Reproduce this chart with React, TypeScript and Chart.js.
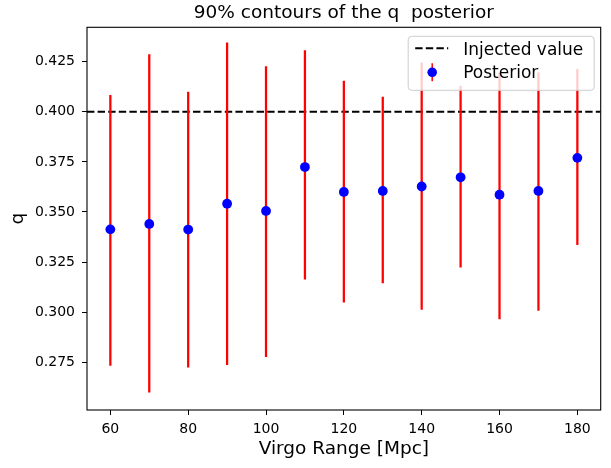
import React, { useEffect, useRef } from 'react';
import { Chart, registerables } from 'chart.js';

Chart.register(...registerables);

// ---- data ----
const distances = [60, 70, 80, 90, 100, 110, 120, 130, 140, 150, 160, 170, 180];
const medians = [0.3413, 0.344, 0.3412, 0.3541, 0.3505, 0.3724, 0.36, 0.3605, 0.3627, 0.3673, 0.3586, 0.3605, 0.377];
const lower90 = [0.2733, 0.26, 0.2725, 0.2737, 0.2777, 0.3164, 0.305, 0.3145, 0.3013, 0.3224, 0.2966, 0.3008, 0.3337];
const upper90 = [0.4082, 0.4286, 0.4099, 0.4344, 0.4226, 0.4306, 0.4153, 0.4073, 0.4245, 0.4128, 0.4192, 0.4195, 0.4212];
const injectedValue = 0.4;

const xTicks = [60, 80, 100, 120, 140, 160, 180];
const xTickLabels = ['60', '80', '100', '120', '140', '160', '180'];
const yTicks = [0.275, 0.3, 0.325, 0.35, 0.375, 0.4, 0.425];
const yTickLabels = ['0.275', '0.300', '0.325', '0.350', '0.375', '0.400', '0.425'];
const xLimits = [54, 186];
const yLimits = [0.2511, 0.4422];

const titleText = '90% contours of the q  posterior';
const xLabel = 'Virgo Range [Mpc]';
const yLabel = 'q';
const legendLabels = ['Injected value', 'Posterior'];

const FAMILY = "'DejaVu Sans', 'Noto Sans', sans-serif";
const TEXT = '#000000';
const RED = '#ff0000';
const BLUE = '#0000ff';
const DASH = [7.4, 3.2];

const overlayPlugin = {
  id: 'overlay',
  afterDatasetsDraw(chart: any) {
    const { ctx, chartArea: a } = chart;
    ctx.save();
    // frame (all four spines)
    ctx.strokeStyle = '#000';
    ctx.lineWidth = 1.1;
    ctx.setLineDash([]);
    ctx.strokeRect(a.left, a.top, a.right - a.left, a.bottom - a.top);

    // title centred over the axes
    ctx.fillStyle = TEXT;
    ctx.font = `18.5px ${FAMILY}`;
    ctx.textAlign = 'center';
    ctx.textBaseline = 'alphabetic';
    ctx.fillText(titleText, (a.left + a.right) / 2, 18.3);

    // legend box in upper right
    const bw = 186, bh = 54;
    const bx = a.right - 6.5 - bw, by = a.top + 9;
    const r = 3.5;
    ctx.beginPath();
    ctx.moveTo(bx + r, by);
    ctx.lineTo(bx + bw - r, by);
    ctx.arcTo(bx + bw, by, bx + bw, by + r, r);
    ctx.lineTo(bx + bw, by + bh - r);
    ctx.arcTo(bx + bw, by + bh, bx + bw - r, by + bh, r);
    ctx.lineTo(bx + r, by + bh);
    ctx.arcTo(bx, by + bh, bx, by + bh - r, r);
    ctx.lineTo(bx, by + r);
    ctx.arcTo(bx, by, bx + r, by, r);
    ctx.closePath();
    ctx.fillStyle = 'rgba(255,255,255,0.8)';
    ctx.fill();
    ctx.strokeStyle = '#cccccc';
    ctx.lineWidth = 1;
    ctx.stroke();

    const row1 = by + 12, row2 = by + 36;
    // dashed line sample
    ctx.strokeStyle = '#000';
    ctx.lineWidth = 2;
    ctx.setLineDash(DASH);
    ctx.beginPath();
    ctx.moveTo(bx + 7, row1);
    ctx.lineTo(bx + 40, row1);
    ctx.stroke();
    ctx.setLineDash([]);
    // posterior sample: error bar + marker
    const mx = bx + 24;
    ctx.strokeStyle = RED;
    ctx.lineWidth = 1.5;
    ctx.beginPath();
    ctx.moveTo(mx, row2 - 9);
    ctx.lineTo(mx, row2 + 9);
    ctx.stroke();
    ctx.fillStyle = BLUE;
    ctx.beginPath();
    ctx.arc(mx, row2, 4.8, 0, Math.PI * 2);
    ctx.fill();

    ctx.fillStyle = TEXT;
    ctx.font = `17px ${FAMILY}`;
    ctx.textAlign = 'left';
    ctx.textBaseline = 'alphabetic';
    ctx.fillText(legendLabels[0], bx + 55, row1 + 6.3);
    ctx.fillText(legendLabels[1], bx + 55, row2 + 6);
    ctx.restore();
  },
};

export default function App() {
  const canvasRef = useRef<HTMLCanvasElement | null>(null);

  useEffect(() => {
    const canvas = canvasRef.current;
    if (!canvas) return;
    const tickFont = { family: FAMILY, size: 14 };
    const labelFont = { family: FAMILY, size: 18.5 };
    const chart = new Chart(canvas, {
      type: 'bar',
      data: {
        datasets: [
          {
            type: 'line',
            label: legendLabels[0],
            data: xLimits.map((x) => ({ x, y: injectedValue })),
            borderColor: '#000',
            borderWidth: 2,
            borderDash: DASH,
            pointRadius: 0,
            fill: false,
            order: 3,
          } as any,
          {
            type: 'bar',
            label: '90% interval',
            data: distances.map((x, i) => ({ x, y: [lower90[i], upper90[i]] })),
            backgroundColor: RED,
            borderWidth: 0,
            barThickness: 1.6,
            order: 2,
          } as any,
          {
            type: 'scatter',
            label: legendLabels[1],
            data: distances.map((x, i) => ({ x, y: medians[i] })),
            backgroundColor: BLUE,
            borderColor: BLUE,
            borderWidth: 0,
            pointRadius: 4.9,
            order: 1,
          } as any,
        ],
      },
      options: {
        responsive: false,
        animation: false,
        devicePixelRatio: 1,
        layout: { padding: { top: 27.3, right: 10.3, bottom: 0, left: 0 } },
        plugins: {
          legend: { display: false },
          tooltip: { enabled: false },
          title: { display: false },
        },
        scales: {
          x: {
            type: 'linear',
            min: xLimits[0],
            max: xLimits[1],
            offset: false,
            afterBuildTicks: (s: any) => {
              s.ticks = xTicks.map((v) => ({ value: v }));
            },
            afterFit: (s: any) => {
              s.height = 58;
            },
            grid: {
              display: true,
              offset: false,
              drawOnChartArea: false,
              drawTicks: true,
              tickLength: 5,
              color: '#000',
              lineWidth: 1,
            },
            border: { display: false },
            ticks: {
              font: tickFont,
              color: TEXT,
              padding: 5.5,
              maxRotation: 0,
              autoSkip: false,
              callback: (_v: any, i: number) => xTickLabels[i],
            },
            title: {
              display: true,
              text: xLabel,
              font: labelFont,
              color: TEXT,
              padding: { top: 0, bottom: 7.4 },
            },
          },
          y: {
            type: 'linear',
            min: yLimits[0],
            max: yLimits[1],
            afterBuildTicks: (s: any) => {
              s.ticks = yTicks.map((v) => ({ value: v }));
            },
            afterFit: (s: any) => {
              s.width = 87;
            },
            grid: {
              display: true,
              drawOnChartArea: false,
              drawTicks: true,
              tickLength: 5,
              color: '#000',
              lineWidth: 1,
            },
            border: { display: false },
            ticks: {
              font: tickFont,
              color: TEXT,
              padding: 7,
              autoSkip: false,
              callback: (_v: any, i: number) => yTickLabels[i],
            },
            title: {
              display: true,
              text: yLabel,
              font: labelFont,
              color: TEXT,
              padding: { top: 7, bottom: 0 },
            },
          },
        },
      } as any,
      plugins: [overlayPlugin],
    });
    return () => chart.destroy();
  }, []);

  return (
    <div style={{ position: 'absolute', left: 0, top: 0, width: 611, height: 468, background: '#ffffff' }}>
      <canvas ref={canvasRef} width={611} height={468} style={{ display: 'block', width: 611, height: 468 }} />
    </div>
  );
}
